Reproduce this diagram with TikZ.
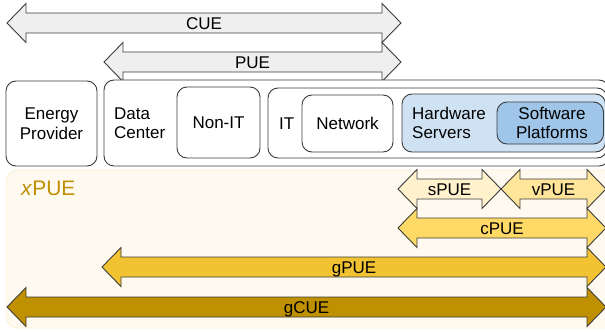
\documentclass[tikz,border=0pt]{standalone}
\usepackage{fontspec}
\setmainfont{Liberation Sans}
\usepackage{xcolor}

\definecolor{lineclr}{HTML}{3C3C3C}
\definecolor{cuegray}{HTML}{EFEFEF}
\definecolor{hwblue}{HTML}{CFE2F3}
\definecolor{swblue}{HTML}{9FC5E8}
\definecolor{xbg}{HTML}{FFFAF0}
\definecolor{xborder}{HTML}{FDF0D8}
\definecolor{spueclr}{HTML}{FFF2CC}
\definecolor{vpueclr}{HTML}{FFE599}
\definecolor{cpueclr}{HTML}{FFD966}
\definecolor{gpueclr}{HTML}{F1C232}
\definecolor{gcueclr}{HTML}{BF9000}

\tikzset{
  box/.style={draw=lineclr, line width=0.9pt, rounded corners=10pt, fill=white, inner sep=0pt},
  spanline/.style={draw=lineclr, line width=0.9pt, line join=miter},
  spanlabel/.style={inner sep=0pt, text height=12pt, text depth=0pt},
  boxtext/.style={inner sep=0pt, align=left},
}

% name, left tip, right tip, middle, fill, label
\newcommand{\spanarrow}[6]{%
  \draw[spanline, fill=#5] (#2,#4) -- (#2+19,#4-19.5) -- (#2+19,#4-10) -- (#3-19,#4-10)
    -- (#3-19,#4-19.5) -- (#3,#4) -- (#3-19,#4+19.5) -- (#3-19,#4+10)
    -- (#2+19,#4+10) -- (#2+19,#4+19.5) -- cycle;
  \node[spanlabel] (#1) at ({(#2+#3)/2},#4) {#6};
}

\begin{document}
\begin{tikzpicture}[x=1pt, y=-1pt, font=\fontsize{17}{19.5}\selectfont]

\useasboundingbox (0,0) rectangle (605,332);
\clip (0,0) rectangle (605,332);
\fill[white] (0,0) rectangle (605,332);

\draw[fill=xbg, draw=xborder, line width=0.9pt, rounded corners=12pt] (6,170) rectangle (625,328);
\node[anchor=west, inner sep=0pt, text=gcueclr, font=\fontsize{21}{24}\selectfont] (xpue) at (21,188) {\textit{x}PUE};

\spanarrow{cue}{7}{401}{23}{cuegray}{CUE}
\spanarrow{pue}{104}{401}{62}{cuegray}{PUE}

\node[box, minimum width=91, minimum height=85] (prov) at (51.5,123.5) {};
\node[align=center, inner sep=0pt] (provtext) at (prov) {Energy\\Provider};

\node[box, minimum width=505, minimum height=86] (dc) at (356.5,123) {};
\node[boxtext, anchor=west] (dctext) at (114,123) {Data\\Center};

\node[box, minimum width=83, minimum height=71] (nonit) at (218.5,122.5) {Non-IT};

\node[box, minimum width=339, minimum height=70] (it) at (437.5,123) {};
\node[spanlabel, anchor=west] (ittext) at (279,123.5) {IT};

\node[box, minimum width=91, minimum height=57] (net) at (347.5,123.5) {};
\node[spanlabel] (nettext) at (net) {Network};

\node[box, fill=hwblue, minimum width=203.5, minimum height=58] (hw) at (503.75,123) {};
\node[boxtext, anchor=west] (hwtext) at (412,123) {Hardware\\Servers};

\node[box, fill=swblue, minimum width=106.5, minimum height=42] (sw) at (550.25,123) {};
\node[align=center, inner sep=0pt] (swtext) at (552,123) {Software\\Platforms};

\spanarrow{spue}{398}{501}{189}{spueclr}{sPUE}
\spanarrow{vpue}{501}{606}{189}{vpueclr}{vPUE}
\spanarrow{cpue}{398}{606}{228}{cpueclr}{cPUE}
\spanarrow{gpue}{102}{606}{267}{gpueclr}{gPUE}
\spanarrow{gcue}{7}{606}{307}{gcueclr}{gCUE}

\end{tikzpicture}
\end{document}
